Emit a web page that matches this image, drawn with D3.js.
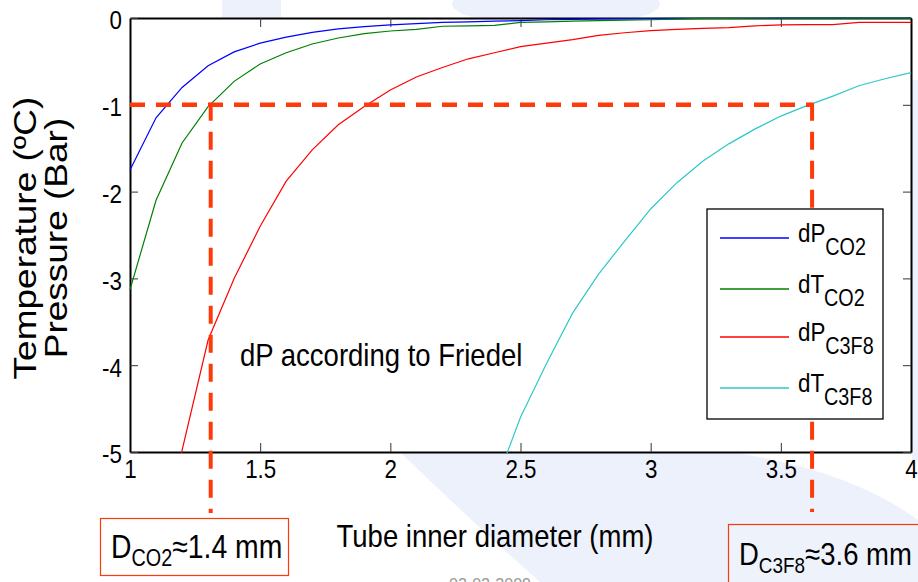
<!DOCTYPE html>
<html>
<head>
<meta charset="utf-8">
<script src="https://cdn.jsdelivr.net/npm/d3@7"></script>
<style>
  body { margin: 0; background: #fff; }
  svg { display: block; font-family: "Liberation Sans", Arial, sans-serif; }
</style>
</head>
<body>
<div id="chart-area"></div>
<script>
// tube inner diameter (mm)
var diameter = [1.0, 1.1, 1.2, 1.3, 1.4, 1.5, 1.6, 1.7, 1.8, 1.9, 2.0, 2.1, 2.2, 2.3, 2.4, 2.5,
                2.6, 2.7, 2.8, 2.9, 3.0, 3.1, 3.2, 3.3, 3.4, 3.5, 3.6, 3.7, 3.8, 3.9, 4.0];

var dP_CO2 = [-1.75, -1.15, -0.80, -0.55, -0.39, -0.29, -0.22, -0.165, -0.125, -0.10, -0.08, -0.065,
              -0.05, -0.045, -0.035, -0.03, -0.02, -0.015, -0.01, -0.008, -0.006, -0.005, -0.004,
              -0.003, -0.003, -0.002, -0.002, -0.002, -0.001, -0.001, -0.001];
var dT_CO2 = [-3.13, -2.10, -1.44, -1.02, -0.73, -0.53, -0.40, -0.30, -0.23, -0.18, -0.15, -0.13,
              -0.095, -0.09, -0.085, -0.05, -0.045, -0.035, -0.03, -0.025, -0.02, -0.012, -0.005,
              -0.004, -0.003, -0.003, -0.002, -0.002, -0.002, -0.001, -0.001];
var dP_C3F8 = [null, -6.6, -4.98, -3.71, -3.0, -2.4, -1.88, -1.52, -1.23, -1.02, -0.83, -0.68, -0.57,
               -0.47, -0.40, -0.33, -0.29, -0.25, -0.20, -0.17, -0.145, -0.13, -0.12, -0.11, -0.09,
               -0.08, -0.077, -0.077, -0.05, -0.05, -0.05];
var dT_C3F8 = [null, null, null, null, null, null, null, null, null, null, null, null, null, null,
               -5.4, -4.6, -3.98, -3.40, -2.95, -2.57, -2.2, -1.9, -1.65, -1.45, -1.28, -1.13,
               -1.01, -0.9, -0.78, -0.7, -0.63];

var seriesNames = ["dP", "dT", "dP", "dT"];
var seriesSubs = ["CO2", "CO2", "C3F8", "C3F8"];
var seriesColors = ["#0000ff", "#008000", "#ff0000", "#2ec8c8"];
var seriesValues = [dP_CO2, dT_CO2, dP_C3F8, dT_C3F8];

var xTicks = [1, 1.5, 2, 2.5, 3, 3.5, 4];
var yTicks = [0, -1, -2, -3, -4, -5];

// design point: dP = -1 bar -> D for each fluid
var limitValue = -1;
var dCO2 = 1.31;
var dC3F8 = 3.62;

var SQ = 0.86; // horizontal squeeze of the slide text

var W = 918, H = 582;

var svg = d3.select("#chart-area").append("svg")
    .attr("width", W)
    .attr("height", H);

// faint slide background shapes
var bg = svg.append("g").attr("fill", "#edf1fb");
bg.append("rect").attr("x", 222).attr("y", 0).attr("width", 59).attr("height", 30);
bg.append("ellipse").attr("cx", 556).attr("cy", 4).attr("rx", 104).attr("ry", 22);
bg.append("rect").attr("x", 912).attr("y", 80).attr("width", 6).attr("height", 380);
bg.append("path").attr("d", "M400,452 L730,452 Q850,470 918,520 L918,582 L540,582 Q470,520 400,452 Z");

var x = d3.scaleLinear().domain([1, 4]).range([130, 911]);
var y = d3.scaleLinear().domain([-5, 0]).range([452, 18]);

// plot area
svg.append("rect")
    .attr("x", x(1)).attr("y", y(0))
    .attr("width", x(4) - x(1)).attr("height", y(-5) - y(0))
    .attr("fill", "#fff");

svg.append("clipPath").attr("id", "clip")
  .append("rect")
    .attr("x", x(1) - 1).attr("y", y(0) - 1)
    .attr("width", x(4) - x(1) + 2).attr("height", y(-5) - y(0) + 2);

// axes with inward ticks
var fmt = function(d) { return String(d); };

var gx = svg.append("g")
    .attr("transform", "translate(0," + y(-5) + ")")
    .call(d3.axisBottom(x).tickValues(xTicks).tickFormat(fmt).tickSize(-9).tickSizeOuter(0).tickPadding(13));
var gxTop = svg.append("g")
    .attr("transform", "translate(0," + y(0) + ")")
    .call(d3.axisTop(x).tickValues(xTicks).tickFormat("").tickSize(-9).tickSizeOuter(0));
var gy = svg.append("g")
    .attr("transform", "translate(" + x(1) + ",0)")
    .call(d3.axisLeft(y).tickValues(yTicks).tickFormat(fmt).tickSize(-8).tickSizeOuter(0).tickPadding(8));
var gyRight = svg.append("g")
    .attr("transform", "translate(" + x(4) + ",0)")
    .call(d3.axisRight(y).tickValues(yTicks).tickFormat("").tickSize(-8).tickSizeOuter(0));

[gx, gxTop, gy, gyRight].forEach(function(g) {
    g.select(".domain").attr("stroke", "#000").attr("stroke-width", 2);
    g.selectAll(".tick line").attr("stroke", "#333").attr("stroke-width", 1);
});
gx.selectAll(".tick text")
    .attr("font-size", "26px").attr("fill", "#000")
    .attr("font-family", "Liberation Sans, Arial, sans-serif")
    .attr("dy", "0.5em")
    .attr("transform", "scale(" + SQ + ",1)");
gy.selectAll(".tick text")
    .attr("font-size", "26px").attr("fill", "#000")
    .attr("font-family", "Liberation Sans, Arial, sans-serif")
    .attr("x", -8 / SQ)
    .attr("dy", "0.42em")
    .attr("transform", "scale(" + SQ + ",1)");

// curves
var line = d3.line()
    .defined(function(d) { return d.v !== null; })
    .x(function(d) { return x(d.d); })
    .y(function(d) { return y(d.v); });

var curves = svg.append("g").attr("clip-path", "url(#clip)");
seriesValues.forEach(function(vals, i) {
    var pts = diameter.map(function(d, j) { return {d: d, v: vals[j]}; });
    curves.append("path")
        .datum(pts)
        .attr("fill", "none")
        .attr("stroke", seriesColors[i])
        .attr("stroke-width", 1.2)
        .attr("d", line);
});

// red dashed design lines
var dashColor = "#ff3a0a";
var boxTopLeft = 518, boxTopRight = 524;
svg.append("line")
    .attr("x1", x(1)).attr("x2", x(dC3F8))
    .attr("y1", y(limitValue)).attr("y2", y(limitValue))
    .attr("stroke", dashColor).attr("stroke-width", 4.5)
    .attr("stroke-dasharray", "15,11");
svg.append("line")
    .attr("x1", x(dCO2)).attr("x2", x(dCO2))
    .attr("y1", y(limitValue) - 2).attr("y2", boxTopLeft - 5)
    .attr("stroke", dashColor).attr("stroke-width", 4)
    .attr("stroke-dasharray", "18,11");
svg.append("line")
    .attr("x1", x(dC3F8)).attr("x2", x(dC3F8))
    .attr("y1", y(limitValue) - 2).attr("y2", boxTopRight - 12)
    .attr("stroke", dashColor).attr("stroke-width", 4)
    .attr("stroke-dasharray", "18,11");

// helper for squeezed text
function sqText(parent, px, py, size, anchor) {
    return parent.append("g")
        .attr("transform", "translate(" + px + "," + py + ") scale(" + SQ + ",1)")
      .append("text")
        .attr("font-size", size + "px")
        .attr("text-anchor", anchor || "start")
        .attr("fill", "#000");
}

// legend
var legend = svg.append("g");
legend.append("rect")
    .attr("x", 707).attr("y", 209)
    .attr("width", 176).attr("height", 210)
    .attr("fill", "#fff").attr("stroke", "#000").attr("stroke-width", 1.3);
var legendY = [238, 289, 337, 388];
seriesNames.forEach(function(name, i) {
    legend.append("line")
        .attr("x1", 720).attr("x2", 789)
        .attr("y1", legendY[i]).attr("y2", legendY[i])
        .attr("stroke", seriesColors[i]).attr("stroke-width", 1.3);
    var t = sqText(legend, 798, legendY[i] + 4, 26, "start");
    t.append("tspan").text(name);
    t.append("tspan").attr("font-size", "23px").attr("dy", 13).text(seriesSubs[i]);
});

// annotation inside plot
sqText(svg, 240, 366, 32, "start").text("dP according to Friedel");

// axis titles
sqText(svg, 495, 547, 32, "middle").text("Tube inner diameter (mm)");

var yt = svg.append("g").attr("transform", "translate(36,238) scale(" + SQ + ",1) rotate(-90)");
yt.append("text").attr("font-size", "37px").attr("text-anchor", "middle").text("Temperature (\u00baC)");
yt.append("text").attr("font-size", "37px").attr("text-anchor", "middle").attr("y", 36).text("Pressure (Bar)");

// result boxes
svg.append("rect")
    .attr("x", 100.5).attr("y", 518.5).attr("width", 188).attr("height", 57)
    .attr("fill", "#fff").attr("stroke", dashColor).attr("stroke-width", 1.2);
var t1 = sqText(svg, 111, 558, 33, "start");
t1.append("tspan").text("D");
t1.append("tspan").attr("font-size", "23px").attr("dy", 8).text("CO2");
t1.append("tspan").attr("dy", -8).text("\u22481.4 mm");

svg.append("rect")
    .attr("x", 728.5).attr("y", 524.5).attr("width", 200).attr("height", 70)
    .attr("fill", "#eef2fb").attr("stroke", dashColor).attr("stroke-width", 1.2);
var t2 = sqText(svg, 739, 565, 32, "start");
t2.append("tspan").text("D");
t2.append("tspan").attr("font-size", "22px").attr("dy", 8).text("C3F8");
t2.append("tspan").attr("dy", -8).text("\u22483.6 mm");

// slide footer date (cut off at bottom, as on the slide)
svg.append("text")
    .attr("x", 490).attr("y", 590)
    .attr("font-size", "16px").attr("text-anchor", "middle")
    .attr("fill", "#999").text("02-02-2009");
</script>
</body>
</html>
